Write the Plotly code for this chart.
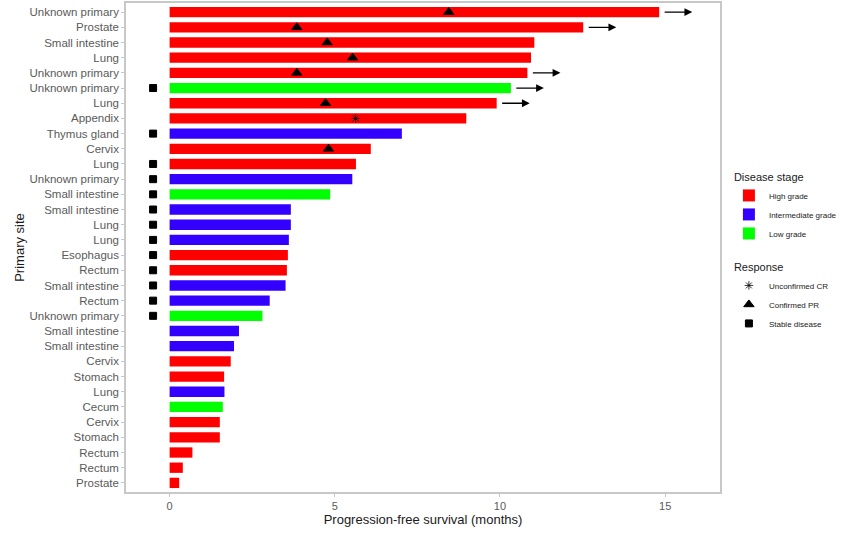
import plotly.graph_objects as go

# Swimmer data, top to bottom
sites = [
    "Unknown primary", "Prostate", "Small intestine", "Lung", "Unknown primary",
    "Unknown primary", "Lung", "Appendix", "Thymus gland", "Cervix", "Lung",
    "Unknown primary", "Small intestine", "Small intestine", "Lung", "Lung",
    "Esophagus", "Rectum", "Small intestine", "Rectum", "Unknown primary",
    "Small intestine", "Small intestine", "Cervix", "Stomach", "Lung", "Cecum",
    "Cervix", "Stomach", "Rectum", "Rectum", "Prostate",
]
pfs_months = [
    14.82, 12.52, 11.04, 10.94, 10.83, 10.33, 9.90, 8.98, 7.03, 6.09, 5.64,
    5.53, 4.86, 3.67, 3.67, 3.61, 3.58, 3.55, 3.51, 3.03, 2.81, 2.10, 1.95,
    1.85, 1.65, 1.66, 1.61, 1.52, 1.52, 0.69, 0.40, 0.29,
]
stage = [
    "High", "High", "High", "High", "High", "Low", "High", "High", "Intermediate",
    "High", "High", "Intermediate", "Low", "Intermediate", "Intermediate",
    "Intermediate", "High", "High", "Intermediate", "Intermediate", "Low",
    "Intermediate", "Intermediate", "High", "High", "Intermediate", "Low",
    "High", "High", "High", "High", "High",
]
response = [
    "PR", "PR", "PR", "PR", "PR", "SD", "PR", "CR", "SD", "PR", "SD", "SD",
    "SD", "SD", "SD", "SD", "SD", "SD", "SD", "SD", "SD",
    None, None, None, None, None, None, None, None, None, None, None,
]
response_month = [
    8.45, 3.85, 4.77, 5.54, 3.85, None, 4.72, 5.63, None, 4.81, None, None,
    None, None, None, None, None, None, None, None, None,
    None, None, None, None, None, None, None, None, None, None, None,
]
ongoing = [
    True, True, False, False, True, True, True, False, False, False, False,
    False, False, False, False, False, False, False, False, False, False,
    False, False, False, False, False, False, False, False, False, False, False,
]

stage_names = {"High": "High grade", "Intermediate": "Intermediate grade", "Low": "Low grade"}
stage_colors = {"High": "#ff0000", "Intermediate": "#3300ff", "Low": "#00ff00"}
SD_X = -0.5  # stable disease marker sits left of zero

FONT = "Liberation Sans, Arial, sans-serif"
pos = list(range(len(sites)))

fig = go.Figure()

for key in ["High", "Intermediate", "Low"]:
    idx = [i for i in pos if stage[i] == key]
    fig.add_trace(
        go.Bar(
            x=[pfs_months[i] for i in idx],
            y=idx,
            orientation="h",
            name=stage_names[key],
            marker=dict(color=stage_colors[key], line=dict(width=0)),
            width=0.68,
            legendgroup="stage",
            legendgrouptitle_text="Disease stage",
        )
    )

markers = [
    ("CR", "Unconfirmed CR", "asterisk-open", 7, 0.8),
    ("PR", "Confirmed PR", "triangle-up", 9, 1),
    ("SD", "Stable disease", "square", 7, 1),
]
for code, label, symbol, size, lw in markers:
    idx = [i for i in pos if response[i] == code]
    xs = [SD_X if code == "SD" else response_month[i] for i in idx]
    fig.add_trace(
        go.Scatter(
            x=xs,
            y=idx,
            mode="markers",
            name=label,
            marker=dict(symbol=symbol, size=size, color="black",
                        line=dict(color="black", width=lw)),
            legendgroup="response",
            legendgrouptitle_text="Response",
        )
    )

# arrows for ongoing response
for i in pos:
    if ongoing[i]:
        fig.add_annotation(
            x=pfs_months[i] + 1.0, y=i,
            ax=pfs_months[i] + 0.12, ay=i,
            xref="x", yref="y", axref="x", ayref="y",
            text="", showarrow=True,
            arrowhead=2, arrowsize=1.2, arrowwidth=1.3, arrowcolor="black",
        )

fig.update_layout(
    width=851,
    height=548,
    margin=dict(l=126, r=131, t=3, b=56),
    plot_bgcolor="white",
    paper_bgcolor="white",
    font=dict(family=FONT, color="#4d4d4d", size=11),
    barmode="overlay",
    legend=dict(
        x=1.015, y=0.675, xanchor="left", yanchor="top",
        bgcolor="rgba(0,0,0,0)",
        font=dict(size=8, color="#1a1a1a"),
        grouptitlefont=dict(size=11, color="#1a1a1a"),
        tracegroupgap=14,
        itemsizing="trace",
    ),
)
fig.update_xaxes(
    range=[-1.32, 16.66],
    tickvals=[0, 5, 10, 15],
    showgrid=False, zeroline=False, automargin=False,
    showline=True, mirror=True, linecolor="#c8c8c8", linewidth=1.5,
    ticks="outside", ticklen=3, tickcolor="#c8c8c8",
    tickfont=dict(size=11, color="#5a5a5a"),
    title=dict(text="Progression-free survival (months)", font=dict(size=13, color="#1a1a1a"), standoff=4),
)
fig.update_yaxes(
    range=[len(sites) - 0.4, -0.6],
    tickvals=pos,
    ticktext=sites,
    showgrid=False, zeroline=False, automargin=False,
    showline=True, mirror=True, linecolor="#c8c8c8", linewidth=1.5,
    ticks="outside", ticklen=3, tickcolor="#c8c8c8",
    tickfont=dict(size=11.5, color="#5a5a5a"),
    title=dict(text="Primary site", font=dict(size=13, color="#1a1a1a"), standoff=2),
)

# drop the default body margin so the figure fills the window
fig.write_html(
    "out.html",
    config={"displayModeBar": False},
    post_script="document.body.style.margin = '0';",
)
